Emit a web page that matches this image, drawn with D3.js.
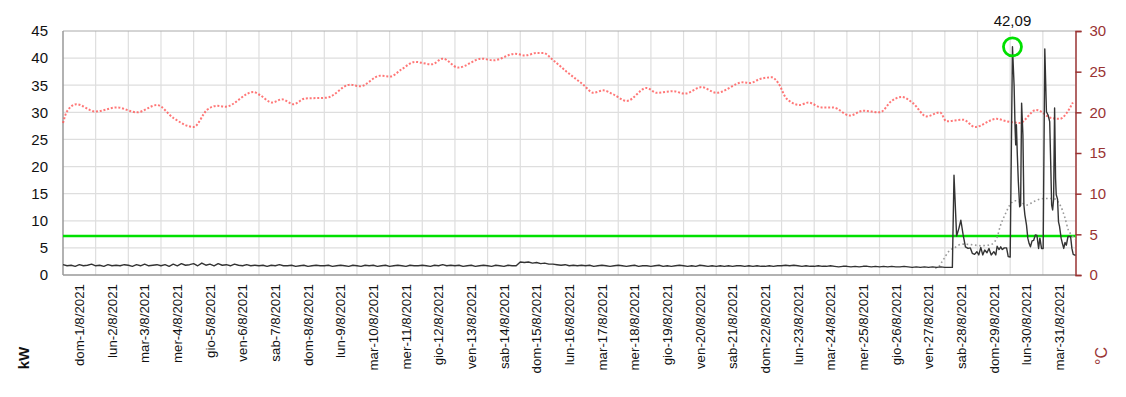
<!DOCTYPE html>
<html>
<head>
<meta charset="utf-8">
<script src="https://cdn.jsdelivr.net/npm/d3@7"></script>
<style>
  html, body { margin: 0; padding: 0; background: #fff; }
  svg { display: block; font-family: "Liberation Sans", Arial, sans-serif; }
</style>
</head>
<body>
<svg id="chart" width="1126" height="397"></svg>
<script>
// ---- DATA ----
const dayLabels = [
  "dom-1/8/2021","lun-2/8/2021","mar-3/8/2021","mer-4/8/2021","gio-5/8/2021","ven-6/8/2021","sab-7/8/2021",
  "dom-8/8/2021","lun-9/8/2021","mar-10/8/2021","mer-11/8/2021","gio-12/8/2021","ven-13/8/2021","sab-14/8/2021",
  "dom-15/8/2021","lun-16/8/2021","mar-17/8/2021","mer-18/8/2021","gio-19/8/2021","ven-20/8/2021","sab-21/8/2021",
  "dom-22/8/2021","lun-23/8/2021","mar-24/8/2021","mer-25/8/2021","gio-26/8/2021","ven-27/8/2021","sab-28/8/2021",
  "dom-29/8/2021","lun-30/8/2021","mar-31/8/2021"
];
const kwTicks = [0, 5, 10, 15, 20, 25, 30, 35, 40, 45];
const tempTicks = [0, 5, 10, 15, 20, 25, 30];

// power (kW), 3-hourly samples from 1/8 00:00 to 28/8 03:00
const powerBase3h = [
  1.9,1.7,1.8,1.6,1.9,1.7,1.8,2.0, 1.7,1.8,1.6,1.9,1.7,1.8,1.7,1.9,
  1.8,1.6,1.9,1.7,2.0,1.7,1.8,1.9, 1.7,1.9,1.6,2.0,1.7,2.1,1.8,1.9,
  2.1,1.7,2.2,1.8,2.0,1.7,2.1,1.8, 1.9,1.7,2.0,1.8,1.7,1.9,1.7,1.8,
  1.7,1.8,1.6,1.8,1.7,1.9,1.7,1.7, 1.8,1.6,1.7,1.8,1.6,1.7,1.8,1.7,
  1.7,1.8,1.6,1.7,1.8,1.7,1.6,1.8, 1.7,1.6,1.8,1.7,1.8,1.6,1.7,1.8,
  1.6,1.7,1.8,1.7,1.6,1.8,1.7,1.7, 1.8,1.7,1.6,1.8,1.7,1.9,1.7,1.8,
  1.7,1.8,1.6,1.7,1.8,1.6,1.7,1.8, 1.7,1.6,1.8,1.7,1.6,1.8,1.7,1.7,
  2.4,2.3,2.4,2.2,2.3,2.1,2.2,2.0, 2.0,1.9,1.8,1.9,1.7,1.8,1.7,1.8,
  1.7,1.8,1.6,1.7,1.8,1.7,1.6,1.7, 1.8,1.7,1.6,1.7,1.8,1.6,1.7,1.7,
  1.6,1.7,1.8,1.6,1.7,1.6,1.7,1.8, 1.7,1.6,1.7,1.6,1.8,1.7,1.6,1.7,
  1.6,1.7,1.6,1.7,1.6,1.7,1.7,1.6, 1.7,1.6,1.7,1.6,1.6,1.7,1.6,1.7,
  1.7,1.8,1.7,1.8,1.7,1.6,1.7,1.6, 1.6,1.7,1.6,1.6,1.7,1.6,1.5,1.6,
  1.6,1.5,1.6,1.5,1.6,1.6,1.5,1.6, 1.5,1.6,1.5,1.6,1.5,1.5,1.6,1.5,
  1.4,1.5,1.4,1.5,1.4,1.5,1.4,1.5, 1.4,1.4
];
// power (kW) after 28/8, [day offset, kW]
const powerEnd = [
  [27.23,1.4],[27.28,18.4],[27.36,7.2],[27.43,8.6],[27.49,10.1],[27.56,7.4],[27.63,5.2],[27.71,4.9],
  [27.78,5.0],[27.84,4.0],[27.91,3.8],[27.98,4.3],[28.04,3.7],[28.10,5.1],[28.16,3.7],[28.22,4.6],
  [28.29,4.1],[28.35,4.9],[28.42,3.7],[28.50,4.3],[28.56,3.7],[28.60,5.3],[28.66,4.7],[28.71,5.2],
  [28.76,4.7],[28.82,5.0],[28.89,5.0],[28.94,3.4],[29.00,3.3],[29.07,42.09],[29.12,35.0],[29.15,27.1],
  [29.17,24.0],[29.19,27.7],[29.22,22.0],[29.25,17.2],[29.29,12.6],[29.32,12.8],[29.35,31.7],[29.39,25.8],
  [29.42,12.9],[29.45,11.1],[29.50,9.2],[29.54,6.8],[29.58,5.8],[29.62,5.2],[29.67,6.3],[29.72,6.4],
  [29.77,7.4],[29.82,7.3],[29.87,4.9],[29.91,6.8],[29.96,4.9],[30.01,4.9],[30.06,41.7],[30.11,30.1],
  [30.16,29.5],[30.21,28.3],[30.24,20.9],[30.27,12.9],[30.30,12.0],[30.33,14.0],[30.36,30.8],[30.39,17.8],
  [30.41,14.8],[30.45,14.0],[30.48,9.8],[30.51,9.0],[30.56,6.8],[30.60,5.8],[30.64,4.9],[30.68,6.0],
  [30.72,5.5],[30.77,7.1],[30.85,7.1],[30.89,4.9],[30.93,3.8],[31.0,3.6]
];
// grey dotted series (kW), [day offset, value]
const greySeries = [
  [26.7,1.3],[26.8,1.5],[26.96,2.9],[27.11,4.3],[27.32,5.1],[27.52,5.7],[27.8,5.6],[28.1,5.4],
  [28.4,5.6],[28.59,6.8],[28.69,8.9],[28.84,11.1],[28.99,12.9],[29.14,13.7],[29.3,13.5],[29.51,12.9],
  [29.71,13.5],[30.02,14.1],[30.32,14.1],[30.53,12.9],[30.68,10.5],[30.78,8.3],[30.88,7.4],[31.0,6.6]
];
// temperature (°C), [day offset, value]
const temperature = [
  [0,18.7],[0.12,20.1],[0.41,21.0],[0.99,20.1],[1.65,20.6],[2.26,20.0],[2.88,20.9],[3.38,19.3],
  [4.0,18.2],[4.41,20.3],[4.71,20.8],[4.97,20.7],[5.83,22.5],[6.04,22.1],[6.40,21.2],[6.70,21.6],
  [7.06,21.0],[7.41,21.7],[8.08,21.8],[8.79,23.4],[9.10,23.2],[9.71,24.5],[10.02,24.4],[10.37,25.3],
  [10.78,26.2],[11.29,25.9],[11.63,26.6],[12.10,25.5],[12.82,26.6],[13.18,26.4],[13.84,27.2],[14.15,27.0],
  [14.50,27.3],[14.71,27.3],[15.01,26.4],[15.42,25.0],[15.93,23.4],[16.24,22.4],[16.54,22.7],[16.85,22.2],
  [17.26,21.4],[17.87,23.0],[18.18,22.4],[18.68,22.6],[19.04,22.3],[19.55,23.1],[20.01,22.4],[20.83,23.7],
  [21.03,23.6],[21.34,24.1],[21.70,24.3],[21.90,23.6],[22.15,21.7],[22.56,20.9],[22.82,21.2],[23.23,20.6],
  [23.58,20.6],[24.09,19.6],[24.50,20.2],[25.01,20.0],[25.37,21.4],[25.67,21.9],[26.03,21.1],[26.44,19.5],
  [26.85,20.0],[27.05,18.9],[27.56,19.1],[27.92,18.2],[28.58,19.2],[28.89,18.9],[29.29,18.7],[29.80,20.3],
  [30.26,19.3],[30.51,19.2],[30.92,21.2]
];
const thresholdKw = 7.2;
const maxLabel = "42,09";

// ---- CHART ----
const svg = d3.select("#chart");
const L = 63, R = 1075.5, T = 31, B = 275;
const x = d3.scaleLinear().domain([0, 31]).range([L, R]);
const yL = d3.scaleLinear().domain([0, 45]).range([B, T]);
const yR = d3.scaleLinear().domain([0, 30]).range([B, T]);
const darkRed = "#993333";

// grid
const grid = svg.append("g");
grid.selectAll("line.v").data(d3.range(1, 31)).join("line")
  .attr("x1", d => x(d)).attr("x2", d => x(d)).attr("y1", T).attr("y2", B)
  .attr("stroke", "#dedede").attr("stroke-width", 1.2);
grid.selectAll("line.h").data(kwTicks.filter(v => v > 0 && v < 45)).join("line")
  .attr("x1", L).attr("x2", R).attr("y1", d => yL(d)).attr("y2", d => yL(d))
  .attr("stroke", "#dedede").attr("stroke-width", 1.2);

// border top / left / bottom
svg.append("line").attr("x1", L).attr("x2", R).attr("y1", T).attr("y2", T).attr("stroke", "#aaa").attr("stroke-width", 1);
svg.append("line").attr("x1", L).attr("x2", R).attr("y1", B).attr("y2", B).attr("stroke", "#999").attr("stroke-width", 1.5);
svg.append("line").attr("x1", L).attr("x2", L).attr("y1", T).attr("y2", B).attr("stroke", "#999").attr("stroke-width", 1.5);

// left axis labels
const axL = svg.append("g").attr("transform", `translate(${L},0)`)
  .call(d3.axisLeft(yL).tickValues(kwTicks).tickSize(0).tickPadding(15));
axL.select(".domain").remove();
axL.selectAll("text").attr("font-size", 15).attr("fill", "#111").attr("font-family", "Liberation Sans, Arial, sans-serif");

// right axis
const axR = svg.append("g").attr("transform", `translate(${R},0)`)
  .call(d3.axisRight(yR).tickValues(tempTicks).tickSize(6).tickPadding(8));
axR.select(".domain").attr("stroke", darkRed).attr("stroke-width", 1.5);
axR.selectAll(".tick line").attr("stroke", darkRed).attr("stroke-width", 1.5);
axR.selectAll("text").attr("font-size", 15).attr("fill", darkRed).attr("font-family", "Liberation Sans, Arial, sans-serif");

// x labels
svg.append("g").selectAll("text").data(dayLabels).join("text")
  .attr("transform", (d, i) => `translate(${x(i + 0.5)},284) rotate(-90)`)
  .attr("text-anchor", "end").attr("dy", "0.35em")
  .attr("font-size", 13.3).attr("fill", "#111").text(d => d);

// axis titles
svg.append("text").attr("transform", "translate(24,358) rotate(-90)")
  .attr("text-anchor", "middle").attr("dy", "0.35em")
  .attr("font-size", 15).attr("font-weight", "bold").attr("fill", "#111").text("kW");
svg.append("text").attr("transform", "translate(1101,356) rotate(-90)")
  .attr("text-anchor", "middle").attr("dy", "0.35em")
  .attr("font-size", 16).attr("fill", darkRed).text("°C");

// temperature dotted line
const tempLine = d3.line().x(d => x(d[0])).y(d => yR(d[1])).curve(d3.curveMonotoneX);
svg.append("path").datum(temperature).attr("d", tempLine)
  .attr("fill", "none").attr("stroke", "#ff5555").attr("stroke-opacity", 0.8)
  .attr("stroke-width", 2).attr("stroke-dasharray", "2,1.8");

// threshold
svg.append("line").attr("x1", L).attr("x2", R).attr("y1", yL(thresholdKw)).attr("y2", yL(thresholdKw))
  .attr("stroke", "#00e000").attr("stroke-width", 2.4);

// grey dotted
const kwLine = d3.line().x(d => x(d[0])).y(d => yL(d[1]));
svg.append("path").datum(greySeries).attr("d", kwLine.curve(d3.curveMonotoneX))
  .attr("fill", "none").attr("stroke", "#999").attr("stroke-width", 1.6).attr("stroke-dasharray", "1.6,2.6");

// power line
const powerData = powerBase3h.map((v, i) => [i * 0.125, v]).concat(powerEnd);
svg.append("path").datum(powerData).attr("d", d3.line().x(d => x(d[0])).y(d => yL(d[1])))
  .attr("fill", "none").attr("stroke", "#333").attr("stroke-width", 1.4).attr("stroke-linejoin", "round");

// max marker
const maxPt = powerEnd.reduce((a, b) => (b[1] > a[1] ? b : a));
svg.append("circle").attr("cx", x(maxPt[0])).attr("cy", yL(maxPt[1]))
  .attr("r", 9).attr("fill", "none").attr("stroke", "#00e000").attr("stroke-width", 2.8);
svg.append("text").attr("x", x(maxPt[0])).attr("y", 26).attr("text-anchor", "middle")
  .attr("font-size", 15).attr("fill", "#111").text(maxLabel);
</script>
</body>
</html>
